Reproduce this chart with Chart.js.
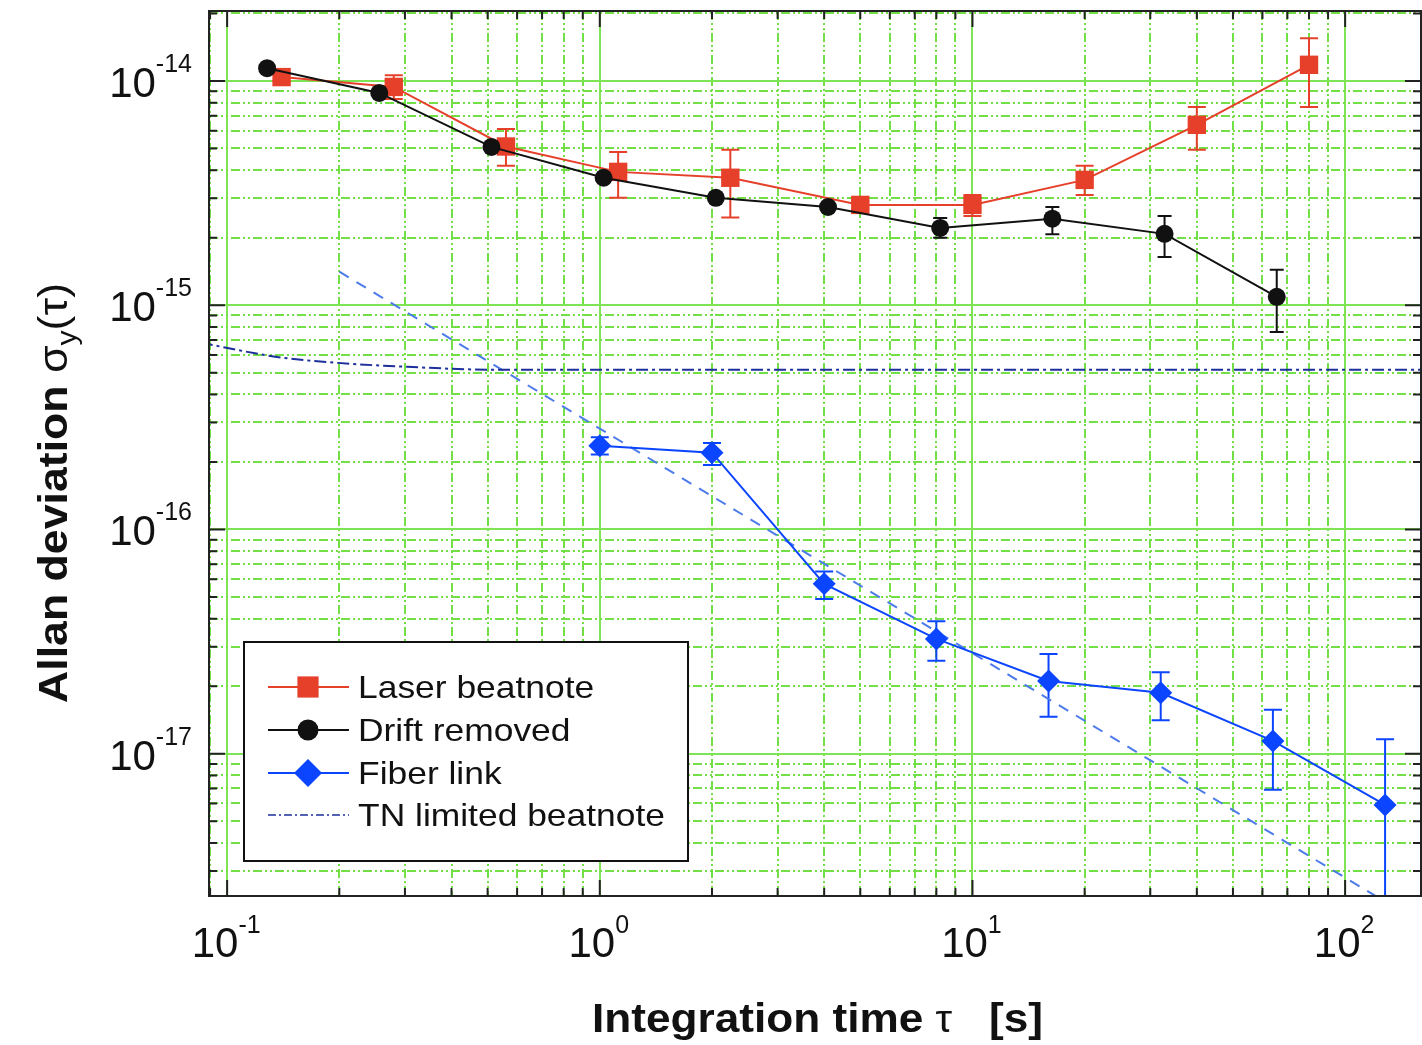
<!DOCTYPE html>
<html>
<head>
<meta charset="utf-8">
<script src="https://cdn.jsdelivr.net/npm/chart.js@4.4.1/dist/chart.umd.min.js"></script>
<style>
  html, body { margin: 0; padding: 0; background: #fff; overflow: hidden; }
  canvas { display: block; }
</style>
</head>
<body>
<canvas id="grafico-allan" width="1422" height="1045"></canvas>
<script>
// --- dados ---
const laserTau  = [0.14, 0.28, 0.56, 1.12, 2.24, 5, 10, 20, 40, 80];
const laserAdev = [1.04e-14, 9.4e-15, 5.1e-15, 3.93e-15, 3.70e-15, 2.80e-15, 2.80e-15, 3.62e-15, 6.37e-15, 1.18e-14];
const laserLow  = [1.0e-14, 8.3e-15, 4.18e-15, 3.01e-15, 2.46e-15, 2.7e-15, 2.5e-15, 3.10e-15, 4.93e-15, 7.66e-15];
const laserHigh = [1.08e-14, 1.06e-14, 6.1e-15, 4.82e-15, 4.93e-15, 2.9e-15, 3.1e-15, 4.18e-15, 7.66e-15, 1.55e-14];

const driftTau  = [0.128, 0.256, 0.512, 1.024, 2.048, 4.096, 8.192, 16.384, 32.768, 65.536];
const driftAdev = [1.14e-14, 8.84e-15, 5.08e-15, 3.70e-15, 3.01e-15, 2.74e-15, 2.21e-15, 2.43e-15, 2.08e-15, 1.09e-15];
const driftLow  = [1.1e-14, 8.5e-15, 4.9e-15, 3.55e-15, 2.9e-15, 2.62e-15, 2.0e-15, 2.07e-15, 1.64e-15, 7.6e-16];
const driftHigh = [1.18e-14, 9.2e-15, 5.3e-15, 3.85e-15, 3.12e-15, 2.86e-15, 2.45e-15, 2.74e-15, 2.5e-15, 1.44e-15];

const fiberTau  = [1, 2, 4, 8, 16, 32, 64, 128];
const fiberAdev = [2.36e-16, 2.20e-16, 5.72e-17, 3.25e-17, 2.11e-17, 1.87e-17, 1.14e-17, 5.91e-18];
const fiberLow  = [2.16e-16, 1.94e-16, 4.9e-17, 2.6e-17, 1.46e-17, 1.41e-17, 6.9e-18, 1e-18];
const fiberHigh = [2.58e-16, 2.43e-16, 6.5e-17, 3.9e-17, 2.78e-17, 2.31e-17, 1.57e-17, 1.16e-17];

const tnTau  = [0.085, 0.136, 0.198, 0.304, 0.533, 170];
const tnAdev = [6.8e-16, 5.88e-16, 5.53e-16, 5.31e-16, 5.15e-16, 5.15e-16];

const slopeTau  = [0.2, 140];
const slopeAdev = [1.41e-15, 2.0e-18];

const xDecades = [-2, -1, 0, 1, 2];
const yDecades = [-18, -17, -16, -15, -14];
const xLabels = ['-1', '0', '1', '2'];
const yLabels = ['-17', '-16', '-15', '-14'];

const X_MIN = 0.0894, X_MAX = 159.8;
const Y_MIN = 2.32e-18, Y_MAX = 2.05e-14;

const RED = '#e6402b', BLACK = '#111111', BLUE = '#0c45ff', DASH_BLUE = '#4d7bea', TN_BLUE = '#1c2f9a';
const GRID_MAJOR = '#7fe356', GRID_MINOR = '#72df47';
const FONT = '"Liberation Sans", Arial, Helvetica, sans-serif';

function pts(xs, ys) { return xs.map((x, i) => ({ x: x, y: ys[i] })); }

function isMajor(v) {
  const l = Math.log10(v);
  return Math.abs(l - Math.round(l)) < 1e-6;
}

function gridTicks(decades, min, max) {
  const out = [];
  decades.forEach(d => {
    for (let s = 1; s <= 9; s++) {
      const v = s * Math.pow(10, d);
      if (v >= min && v <= max) out.push({ value: v, major: s === 1 });
    }
  });
  return out;
}

const minorDash = [9, 3, 2, 3, 2, 3];

function axisOpts(decades, min, max) {
  return {
    type: 'logarithmic',
    min: min, max: max,
    afterBuildTicks: scale => { scale.ticks = gridTicks(decades, min, max); },
    ticks: { display: false, callback: () => '' },
    grid: {
      drawTicks: false,
      lineWidth: 2,
      color: ctx => (ctx.tick && isMajor(ctx.tick.value)) ? GRID_MAJOR : GRID_MINOR
    },
    border: {
      display: false,
      dash: ctx => (ctx.tick && !isMajor(ctx.tick.value)) ? minorDash : []
    }
  };
}

function drawParts(ctx, parts, x, y, align, targetW, sxFixed) {
  let w = 0;
  parts.forEach(p => { ctx.font = p.font; p.w = ctx.measureText(p.t).width; w += p.w; });
  const sx = targetW ? targetW / w : (sxFixed || 1);
  ctx.save();
  ctx.translate(x, y);
  ctx.scale(sx, 1);
  let cx = align === 'center' ? -w / 2 : (align === 'right' ? -w : 0);
  parts.forEach(p => {
    ctx.font = p.font;
    ctx.textAlign = 'left';
    ctx.textBaseline = 'alphabetic';
    ctx.fillText(p.t, cx, p.dy || 0);
    cx += p.w;
  });
  ctx.restore();
}

// barras de erro
const errorBars = {
  id: 'errorBars',
  beforeDatasetsDraw(chart) {
    const { ctx, chartArea: a, scales: { x, y } } = chart;
    ctx.save();
    ctx.beginPath();
    ctx.rect(a.left, a.top, a.right - a.left, a.bottom - a.top);
    ctx.clip();
    chart.data.datasets.forEach(ds => {
      if (!ds.errLow) return;
      ctx.strokeStyle = ds.borderColor;
      ctx.lineWidth = 2;
      ds.data.forEach((p, i) => {
        const px = x.getPixelForValue(p.x);
        const y1 = y.getPixelForValue(ds.errLow[i]);
        const y2 = y.getPixelForValue(ds.errHigh[i]);
        const c = ds.capWidth / 2;
        ctx.beginPath();
        ctx.moveTo(px, y1); ctx.lineTo(px, y2);
        ctx.moveTo(px - c, y1); ctx.lineTo(px + c, y1);
        ctx.moveTo(px - c, y2); ctx.lineTo(px + c, y2);
        ctx.stroke();
      });
    });
    ctx.restore();
  }
};

// moldura, ticks internos, rótulos e legenda
const decor = {
  id: 'decor',
  afterDraw(chart) {
    const { ctx, chartArea: a, scales: { x, y } } = chart;
    ctx.save();
    ctx.strokeStyle = '#222';
    ctx.lineWidth = 2;
    ctx.strokeRect(a.left, a.top, a.right - a.left, a.bottom - a.top);
    ctx.beginPath();
    x.ticks.forEach(t => {
      const px = x.getPixelForValue(t.value);
      const len = isMajor(t.value) ? 16 : 8;
      ctx.moveTo(px, a.bottom); ctx.lineTo(px, a.bottom - len);
      ctx.moveTo(px, a.top); ctx.lineTo(px, a.top + len);
    });
    y.ticks.forEach(t => {
      const py = y.getPixelForValue(t.value);
      const len = isMajor(t.value) ? 16 : 8;
      ctx.moveTo(a.left, py); ctx.lineTo(a.left + len, py);
      ctx.moveTo(a.right, py); ctx.lineTo(a.right - len, py);
    });
    ctx.stroke();

    ctx.fillStyle = '#111';
    // rótulos do eixo y
    yLabels.forEach(e => {
      const py = y.getPixelForValue(Math.pow(10, +e));
      drawParts(ctx, [
        { t: '10', font: '42px ' + FONT, dy: 16 },
        { t: e, font: '25px ' + FONT, dy: -9 }
      ], a.left - 17, py, 'right');
    });
    // rótulos do eixo x
    xLabels.forEach(e => {
      const px = x.getPixelForValue(Math.pow(10, +e));
      drawParts(ctx, [
        { t: '10', font: '42px ' + FONT, dy: 0 },
        { t: e, font: '25px ' + FONT, dy: -24 }
      ], px - 1, a.bottom + 61, 'center');
    });
    // título x
    drawParts(ctx, [
      { t: 'Integration time ', font: 'bold 40px ' + FONT },
      { t: 'τ', font: '38px ' + FONT },
      { t: '   [s]', font: 'bold 40px ' + FONT }
    ], 592, 1032, 'left', 451);
    // título y
    ctx.save();
    ctx.translate(67, 703);
    ctx.rotate(-Math.PI / 2);
    drawParts(ctx, [
      { t: 'Allan deviation ', font: 'bold 40px ' + FONT },
      { t: 'σ', font: '40px ' + FONT },
      { t: 'y', font: '27px ' + FONT, dy: 9 },
      { t: '(τ)', font: '40px ' + FONT }
    ], 0, 0, 'left', 420);
    ctx.restore();

    // legenda
    const L = 244, T = 642, R = 688, B = 861;
    ctx.fillStyle = '#fff';
    ctx.fillRect(L, T, R - L, B - T);
    ctx.strokeStyle = '#111';
    ctx.lineWidth = 2;
    ctx.strokeRect(L, T, R - L, B - T);
    const rows = [687, 730, 773, 815];
    const markR = [15, 10.5, 14, 0];
    ctx.font = '32px ' + FONT;
    const sx = 307 / ctx.measureText('TN limited beatnote').width;
    chart.data.datasets.filter(d => d.inLegend).forEach((ds, i) => {
      const cy = rows[i];
      ctx.save();
      ctx.strokeStyle = ds.borderColor;
      ctx.lineWidth = ds.legendDash ? 1.6 : 2;
      ctx.setLineDash(ds.legendDash || []);
      ctx.beginPath();
      ctx.moveTo(268, cy); ctx.lineTo(349, cy);
      ctx.stroke();
      ctx.setLineDash([]);
      if (markR[i]) {
        ctx.fillStyle = ds.backgroundColor;
        Chart.helpers.drawPoint(ctx, { pointStyle: ds.pointStyle, radius: markR[i], rotation: 0, borderWidth: 0 }, 308, cy);
      }
      ctx.restore();
      ctx.fillStyle = '#111';
      drawParts(ctx, [{ t: ds.label, font: '32px ' + FONT }], 358, cy + 11, 'left', null, sx);
    });
    ctx.restore();
  }
};

const ctxAllan = document.getElementById('grafico-allan').getContext('2d');
new Chart(ctxAllan, {
  type: 'line',
  data: {
    datasets: [
      {
        label: 'Laser beatnote', inLegend: true,
        data: pts(laserTau, laserAdev), errLow: laserLow, errHigh: laserHigh, capWidth: 18,
        borderColor: RED, backgroundColor: RED, borderWidth: 2,
        pointStyle: 'rect', pointRadius: 13, pointBorderWidth: 0, order: 2
      },
      {
        label: 'Drift removed', inLegend: true,
        data: pts(driftTau, driftAdev), errLow: driftLow, errHigh: driftHigh, capWidth: 14,
        borderColor: BLACK, backgroundColor: BLACK, borderWidth: 2,
        pointStyle: 'circle', pointRadius: 9, pointBorderWidth: 0, order: 1
      },
      {
        label: 'Fiber link', inLegend: true,
        data: pts(fiberTau, fiberAdev), errLow: fiberLow, errHigh: fiberHigh, capWidth: 18,
        borderColor: BLUE, backgroundColor: BLUE, borderWidth: 2,
        pointStyle: 'rectRot', pointRadius: 11.5, pointBorderWidth: 0, order: 3
      },
      {
        label: 'TN limited beatnote', inLegend: true, legendDash: [8, 3, 2, 3],
        data: pts(tnTau, tnAdev),
        borderColor: TN_BLUE, backgroundColor: TN_BLUE, borderWidth: 2,
        borderDash: [12, 4, 3, 4], pointRadius: 0,
        cubicInterpolationMode: 'monotone', order: 4
      },
      {
        label: 'slope', inLegend: false,
        data: pts(slopeTau, slopeAdev),
        borderColor: DASH_BLUE, backgroundColor: DASH_BLUE, borderWidth: 2,
        borderDash: [11, 9], pointRadius: 0, order: 5
      }
    ]
  },
  options: {
    responsive: false,
    animation: false,
    devicePixelRatio: 1,
    layout: { autoPadding: false, padding: { left: 209, top: 11, right: 1, bottom: 149 } },
    plugins: { legend: { display: false }, tooltip: { enabled: false } },
    scales: {
      x: axisOpts(xDecades, X_MIN, X_MAX),
      y: axisOpts(yDecades, Y_MIN, Y_MAX)
    }
  },
  plugins: [errorBars, decor]
});
</script>
</body>
</html>
